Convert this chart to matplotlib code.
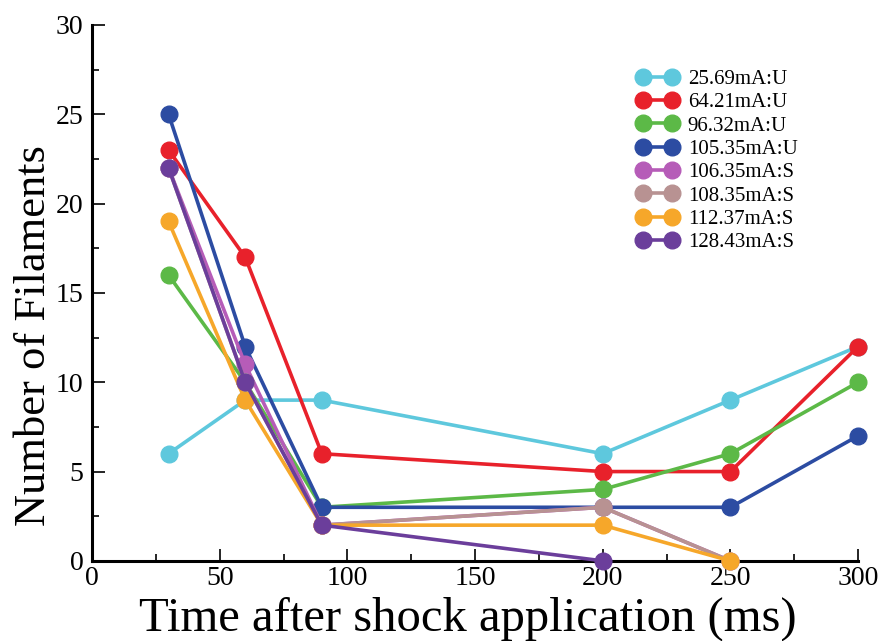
import matplotlib.pyplot as plt
from matplotlib.ticker import MultipleLocator

# time points (ms) as placed on the original plot
times = [30, 60, 90, 200, 250, 300]

labels = ['25.69mA:U', '64.21mA:U', '96.32mA:U', '105.35mA:U',
          '106.35mA:S', '108.35mA:S', '112.37mA:S', '128.43mA:S']
colors = ['#5ec8dd', '#e8212b', '#5cb947', '#2c4ca2',
          '#b65cb8', '#b89292', '#f6a72a', '#6b3e9b']

# filaments per series (shorter series stop early)
filaments = [
    [6, 9, 9, 6, 9, 12],
    [23, 17, 6, 5, 5, 12],
    [16, 10, 3, 4, 6, 10],
    [25, 12, 3, 3, 3, 7],
    [22, 11, 2, 3, 0],
    [22, 10, 2, 3, 0],
    [19, 9, 2, 2, 0],
    [22, 10, 2, 0],
]

plt.rcParams['font.family'] = ['Liberation Serif', 'DejaVu Serif']

fig = plt.figure(figsize=(8.81, 6.41), dpi=100)
ax = fig.add_axes([0.1044, 0.125, 0.8696, 0.836])

for lab, col, ys in zip(labels, colors, filaments):
    ax.plot(times[:len(ys)], ys, color=col, lw=2.6, marker='o',
            markersize=12, label=lab, clip_on=False, zorder=3)

ax.set_xlim(0, 300)
ax.set_ylim(0, 30)
ax.xaxis.set_major_locator(MultipleLocator(50))
ax.xaxis.set_minor_locator(MultipleLocator(25))
ax.yaxis.set_major_locator(MultipleLocator(5))
ax.yaxis.set_minor_locator(MultipleLocator(2.5))

for side in ['top', 'right']:
    ax.spines[side].set_visible(False)
for side in ['left', 'bottom']:
    ax.spines[side].set_linewidth(2.2)

ax.tick_params(which='both', direction='in', width=1.2, labelsize=20)
ax.tick_params(which='major', length=9)
ax.tick_params(which='minor', length=5)
ax.tick_params(axis='y', pad=6)
ax.tick_params(axis='x', pad=4)

ax.set_xlabel('Time after shock application (ms)', fontsize=35)
ax.set_ylabel('Number of Filaments', fontsize=32)
ax.xaxis.set_label_coords(0.49, -0.066)
ax.yaxis.set_label_coords(-0.05, 0.42)

ax.legend(loc='upper left', bbox_to_anchor=(0.711, 0.917), frameon=False,
          fontsize=15, numpoints=2, handlelength=2.0, handletextpad=0.45,
          labelspacing=0.18, borderpad=0, borderaxespad=0)

fig.savefig('out.png', dpi=100)
